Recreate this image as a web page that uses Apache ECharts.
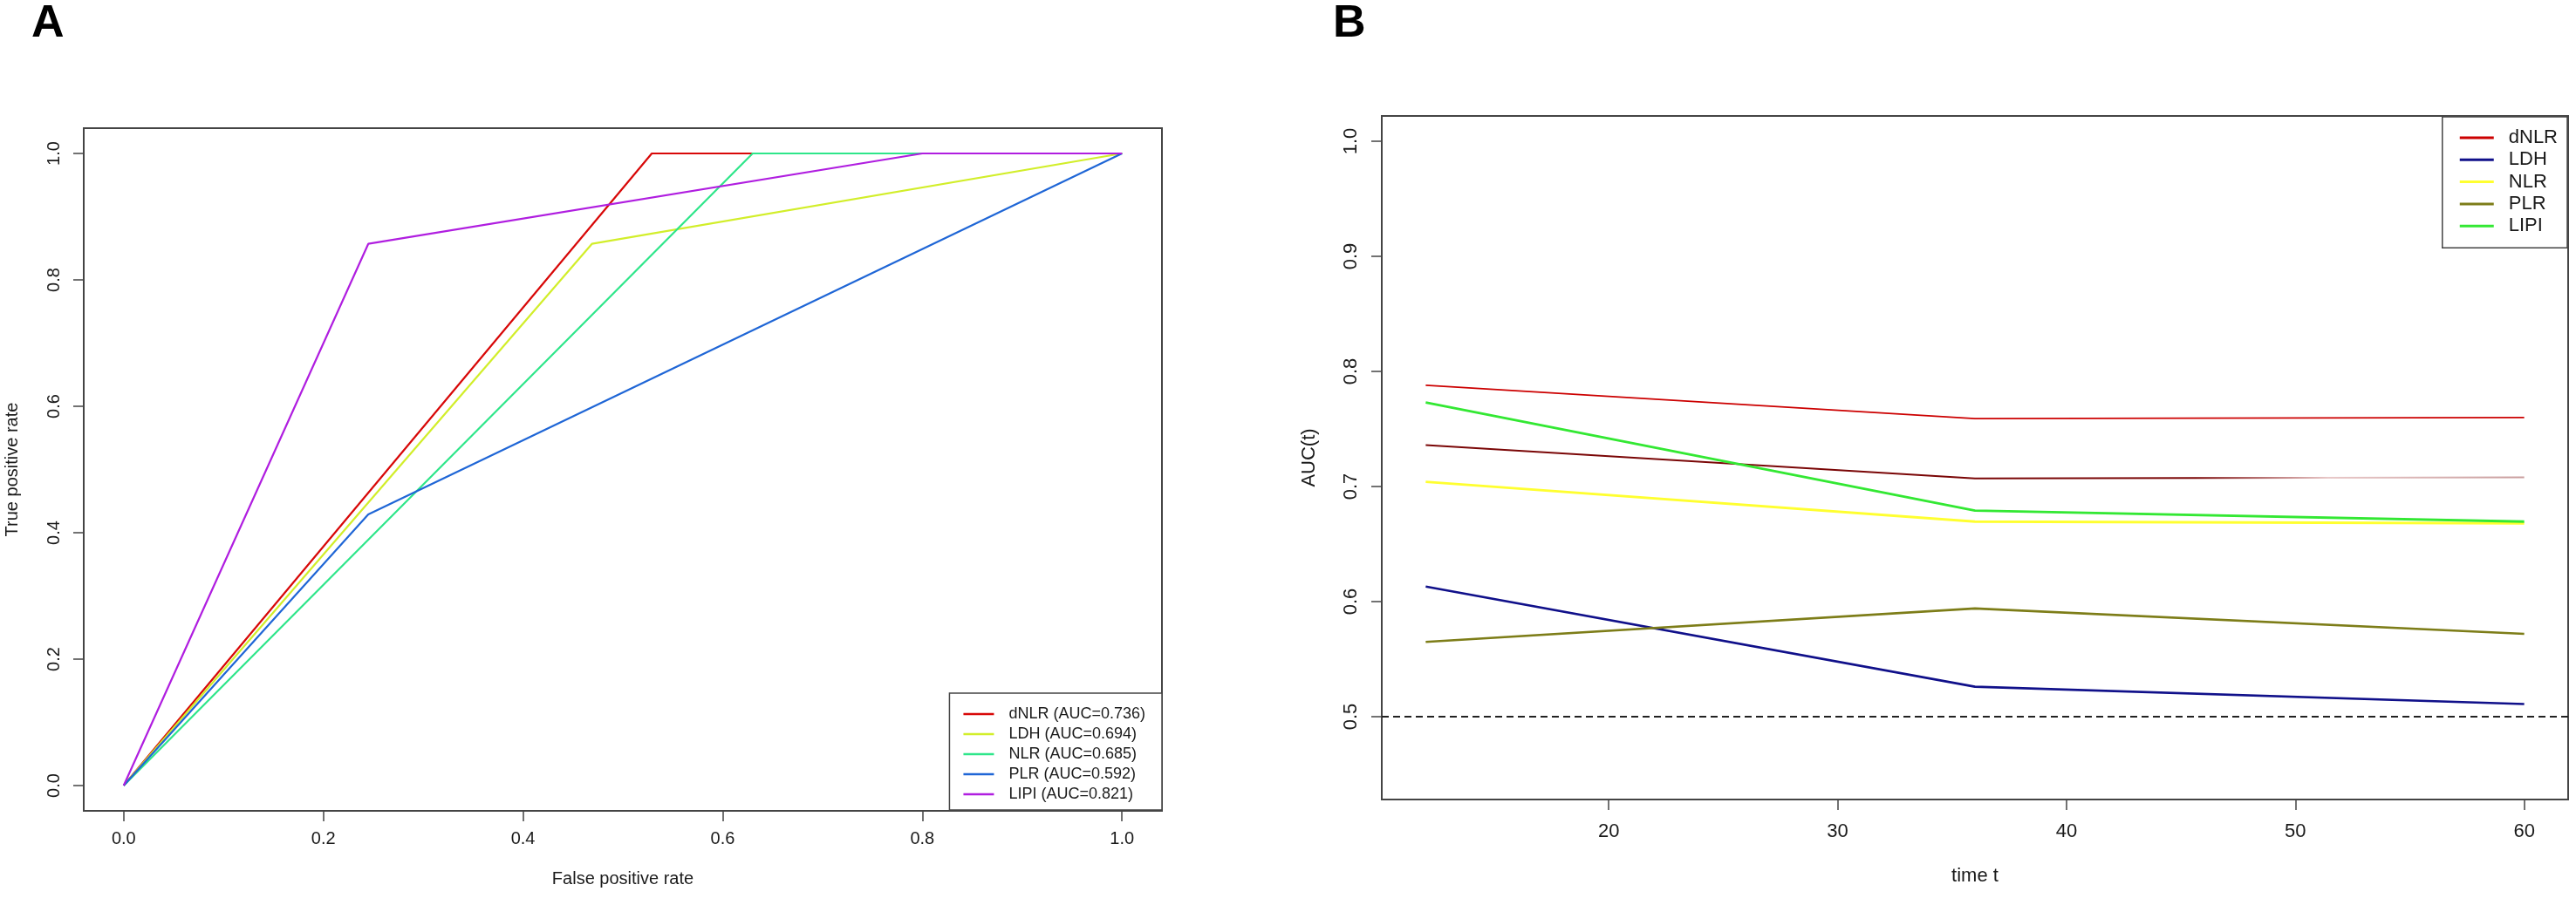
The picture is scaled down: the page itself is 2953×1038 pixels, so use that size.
<!DOCTYPE html>
<html>
<head>
<meta charset="utf-8">
<script src="https://cdn.jsdelivr.net/npm/echarts@6/dist/echarts.min.js"></script>
<style>
html,body{margin:0;padding:0;background:#fff;}
#chart{width:2953px;height:1038px;}
</style>
</head>
<body>
<div id="chart"></div>
<script>
// ---------- Panel A: ROC curves (false positive rate, true positive rate) ----------
const rocNames = ['dNLR (AUC=0.736)', 'LDH (AUC=0.694)', 'NLR (AUC=0.685)', 'PLR (AUC=0.592)', 'LIPI (AUC=0.821)'];
const dnlrFpr = [0, 0.529, 1];          const dnlrTpr = [0, 1, 1];
const ldhFpr  = [0, 0.469, 1];          const ldhTpr  = [0, 0.857, 1];
const nlrFpr  = [0, 0.63, 1];           const nlrTpr  = [0, 1, 1];
const plrFpr  = [0, 0.245, 1];          const plrTpr  = [0, 0.429, 1];
const lipiFpr = [0, 0.245, 0.8, 1];     const lipiTpr = [0, 0.857, 1, 1];
const rocTicks = [0, 0.2, 0.4, 0.6, 0.8, 1.0];

// ---------- Panel B: time-dependent AUC ----------
const timeT     = [12, 36, 60];
const aucDNLR   = [0.788, 0.759, 0.760];
const aucDNLR2  = [0.736, 0.707, 0.708];
const aucLDH    = [0.613, 0.526, 0.511];
const aucNLR    = [0.704, 0.6695, 0.668];
const aucPLR    = [0.565, 0.594, 0.572];
const aucLIPI   = [0.773, 0.679, 0.6695];
const timeTicks = [20, 30, 40, 50, 60];
const aucTicks  = [0.5, 0.6, 0.7, 0.8, 0.9, 1.0];
const refLine   = 0.5;

const FONT = '"Liberation Sans", Arial, sans-serif';
const AX = '#444';

function zip(xs, ys) { return xs.map((x, i) => [x, ys[i]]); }

const chart = echarts.init(document.getElementById('chart'), null, {renderer: 'canvas'});

function makeX(grid, min, max, ticks, fmt, name, fs, margin, gap) {
  return {
    gridIndex: grid, type: 'value', min: min, max: max,
    axisLine: {show: true, onZero: false, lineStyle: {color: AX, width: 2}},
    axisTick: {show: true, customValues: ticks, length: 12, lineStyle: {color: AX, width: 1.5}},
    axisLabel: {show: true, customValues: ticks, formatter: fmt, fontSize: fs, color: '#1a1a1a', fontFamily: FONT, margin: margin},
    splitLine: {show: false},
    name: name, nameLocation: 'middle', nameGap: gap,
    nameTextStyle: {fontSize: fs, color: '#1a1a1a', fontFamily: FONT}
  };
}
function makeY(grid, min, max, ticks, fmt, name, fs, margin, gap) {
  return {
    gridIndex: grid, type: 'value', min: min, max: max,
    axisLine: {show: true, onZero: false, lineStyle: {color: AX, width: 2}},
    axisTick: {show: true, customValues: ticks, length: 12, lineStyle: {color: AX, width: 1.5}},
    axisLabel: {show: true, customValues: ticks, formatter: fmt, rotate: 90, fontSize: fs, color: '#1a1a1a', fontFamily: FONT, margin: margin},
    splitLine: {show: false},
    name: name, nameLocation: 'middle', nameGap: gap, nameRotate: 90,
    nameTextStyle: {fontSize: fs, color: '#1a1a1a', fontFamily: FONT}
  };
}

const rocColors = ['#d80808', '#d2ee2a', '#2ee68a', '#1f66d6', '#b01ee0'];
const rocData = [zip(dnlrFpr, dnlrTpr), zip(ldhFpr, ldhTpr), zip(nlrFpr, nlrTpr), zip(plrFpr, plrTpr), zip(lipiFpr, lipiTpr)];

const aucNames = ['dNLR', 'LDH', 'NLR', 'PLR', 'LIPI'];
const aucColors = ['#cc0000', '#10108a', '#ffff30', '#7d7d18', '#33e833'];
const aucWidths = [1.8, 2.6, 2.8, 2.6, 2.8];
const aucData = [zip(timeT, aucDNLR), zip(timeT, aucLDH), zip(timeT, aucNLR), zip(timeT, aucPLR), zip(timeT, aucLIPI)];

const series = [];
rocData.forEach((d, i) => {
  series.push({
    name: rocNames[i], type: 'line', xAxisIndex: 0, yAxisIndex: 0, data: d,
    symbol: 'none', lineStyle: {color: rocColors[i], width: 2.2}, itemStyle: {color: rocColors[i]},
    silent: true, z: 2 + i
  });
});
// extra dark-red curve (no legend entry), fading toward the right
series.push({
  name: 'dNLR-2', type: 'line', xAxisIndex: 1, yAxisIndex: 1, data: zip(timeT, aucDNLR2),
  symbol: 'none', silent: true, z: 2,
  lineStyle: {width: 2, color: {type: 'linear', x: 0, y: 0, x2: 1, y2: 0, colorStops: [
    {offset: 0, color: '#7a0606'}, {offset: 0.7, color: '#7a0606'},
    {offset: 0.82, color: '#e8c8c8'}, {offset: 1, color: '#c99e9e'}]}}
});
aucData.forEach((d, i) => {
  const s = {
    name: aucNames[i], type: 'line', xAxisIndex: 1, yAxisIndex: 1, data: d,
    symbol: 'none', lineStyle: {color: aucColors[i], width: aucWidths[i]}, itemStyle: {color: aucColors[i]},
    silent: true, z: 3 + i
  };
  if (i === 0) {
    s.markLine = {
      silent: true, symbol: ['none', 'none'], label: {show: false}, animation: false,
      lineStyle: {color: '#222', width: 1.8, type: [8, 5]},
      data: [{yAxis: refLine}]
    };
  }
  series.push(s);
});

const option = {
  animation: false,
  backgroundColor: '#ffffff',
  title: [
    {text: 'A', left: 36, top: 2, padding: 0, textStyle: {fontSize: 52, fontWeight: 'bold', color: '#000', fontFamily: FONT}},
    {text: 'B', left: 1528, top: 2, padding: 0, textStyle: {fontSize: 52, fontWeight: 'bold', color: '#000', fontFamily: FONT}}
  ],
  grid: [
    {left: 96, top: 147, width: 1236, height: 783, show: true, borderColor: AX, borderWidth: 2, backgroundColor: 'transparent'},
    {left: 1584, top: 133, width: 1360, height: 784, show: true, borderColor: AX, borderWidth: 2, backgroundColor: 'transparent'}
  ],
  xAxis: [
    makeX(0, -0.04, 1.04, rocTicks, v => v.toFixed(1), 'False positive rate', 20, 22, 68),
    makeX(1, 10.08, 61.92, timeTicks, v => v.toFixed(0), 'time t', 22, 26, 77)
  ],
  yAxis: [
    makeY(0, -0.04, 1.04, rocTicks, v => v.toFixed(1), 'True positive rate', 20, 24, 72),
    makeY(1, 0.428, 1.022, aucTicks, v => v.toFixed(1), 'AUC(t)', 22, 24, 72)
  ],
  legend: [
    {
      data: rocNames, orient: 'vertical', right: 1621, bottom: 109,
      backgroundColor: '#fff', borderColor: AX, borderWidth: 1.5, borderRadius: 0,
      padding: [15, 19, 9, 16], icon: 'rect', itemWidth: 35, itemHeight: 2.5, itemGap: 5,
      textStyle: {fontSize: 18, lineHeight: 18, color: '#1a1a1a', fontFamily: FONT, padding: [0, 0, 0, 12]},
      selectedMode: false, z: 20
    },
    {
      data: aucNames, orient: 'vertical', right: 10, top: 134,
      backgroundColor: '#fff', borderColor: AX, borderWidth: 1.5, borderRadius: 0,
      padding: [13, 11, 14, 20], icon: 'rect', itemWidth: 39, itemHeight: 3, itemGap: 3.3,
      textStyle: {fontSize: 22, lineHeight: 22, color: '#1a1a1a', fontFamily: FONT, padding: [0, 0, 0, 12]},
      selectedMode: false, z: 20
    }
  ],
  series: series
};
chart.setOption(option);
</script>
</body>
</html>
